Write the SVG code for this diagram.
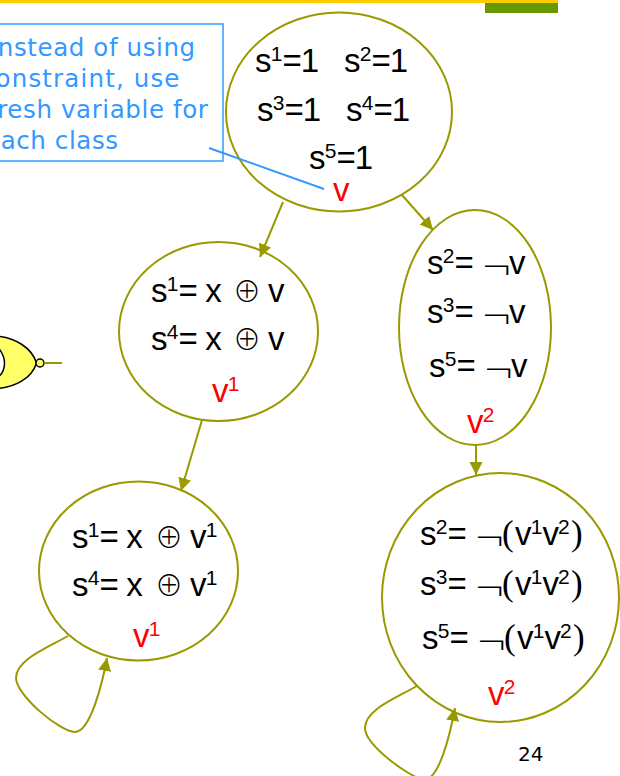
<svg xmlns="http://www.w3.org/2000/svg" width="620" height="776" viewBox="0 0 620 776">
<style>
.n{fill:#fff;stroke:#999900;stroke-width:2}
.c{fill:none;stroke:#999900;stroke-width:2}
.t{font-family:"Liberation Sans",Arial,sans-serif;font-size:33px;letter-spacing:-.8px;fill:#000}
.r{font-family:"Liberation Sans",Arial,sans-serif;font-size:33px;letter-spacing:-.8px;fill:#ff0000}
.s{font-size:21px;letter-spacing:0}
.y{font-family:"Noto Sans CJK SC",sans-serif;font-size:28px;font-weight:300;letter-spacing:0}
.g{font-family:"DejaVu Sans",sans-serif;font-size:38px;font-weight:200;letter-spacing:-4px}
.b{font-family:"DejaVu Sans",Verdana,sans-serif;font-size:24.500px;letter-spacing:.6px;fill:#3399ff}
.p{font-family:"Liberation Serif",serif;font-size:35px;letter-spacing:0}
</style>
<defs>
<marker id="a" markerUnits="userSpaceOnUse" markerWidth="14" markerHeight="14" refX="13" refY="6.500" orient="auto"><path d="M0 0L13 6.500L0 13Z" fill="#999900"/></marker>
</defs>
<g id="header">
<rect x="0" y="0" width="558" height="3" fill="#ffcc00"/>
<rect x="485" y="3" width="73" height="10" fill="#669900"/>
</g>
<g id="gate">
<path d="M-5 336C15 337 32 348 36.500 363C32 378 15 388 -5 388.500Z" fill="#ffff66" stroke="#000" stroke-width="1.500"/>
<path d="M-5 344C1 350 4.500 356 4.500 363C4.500 370 1 376 -5 379Z" fill="#fff" stroke="#000" stroke-width="1.500"/>
<circle cx="40" cy="363" r="4" fill="#ffff66" stroke="#000" stroke-width="1.500"/>
<path d="M44 363H62" class="c"/>
</g>
<g id="node-root">
<ellipse class="n" cx="339" cy="112" rx="113" ry="99.500"/>
<text class="t" x="255" y="72">s<tspan class="s" dy="-11">1</tspan><tspan dy="11">=1</tspan></text>
<text class="t" x="344" y="72">s<tspan class="s" dy="-11">2</tspan><tspan dy="11">=1</tspan></text>
<text class="t" x="257" y="121">s<tspan class="s" dy="-11">3</tspan><tspan dy="11">=1</tspan></text>
<text class="t" x="346" y="121">s<tspan class="s" dy="-11">4</tspan><tspan dy="11">=1</tspan></text>
<text class="t" x="309" y="169">s<tspan class="s" dy="-11">5</tspan><tspan dy="11">=1</tspan></text>
<text class="r" x="333" y="201">v</text>
</g>
<g id="node-left">
<ellipse class="n" cx="218.500" cy="331.500" rx="99.500" ry="89.500"/>
<text class="t" x="151" y="302">s<tspan class="s" dy="-11">1</tspan><tspan dy="11">= x</tspan><tspan class="y" x="233">⊕</tspan><tspan x="268">v</tspan></text>
<text class="t" x="151" y="350">s<tspan class="s" dy="-11">4</tspan><tspan dy="11">= x</tspan><tspan class="y" x="233">⊕</tspan><tspan x="268">v</tspan></text>
<text class="r" x="212" y="402">v<tspan class="s" dy="-11">1</tspan></text>
</g>
<g id="node-right">
<ellipse class="n" cx="475" cy="327.500" rx="76" ry="117.500"/>
<text class="t" x="427" y="274">s<tspan class="s" dy="-11">2</tspan><tspan dy="11">=</tspan><tspan class="g" x="481" y="280">¬</tspan><tspan x="509" y="274">v</tspan></text>
<text class="t" x="427" y="323">s<tspan class="s" dy="-11">3</tspan><tspan dy="11">=</tspan><tspan class="g" x="481" y="329">¬</tspan><tspan x="509" y="323">v</tspan></text>
<text class="t" x="429" y="377">s<tspan class="s" dy="-11">5</tspan><tspan dy="11">=</tspan><tspan class="g" x="483" y="383">¬</tspan><tspan x="511" y="377">v</tspan></text>
<text class="r" x="467" y="433">v<tspan class="s" dy="-11">2</tspan></text>
</g>
<g id="node-bottom-left">
<ellipse class="n" cx="138.500" cy="571" rx="99.500" ry="89.500"/>
<text class="t" x="72" y="548">s<tspan class="s" dy="-11">1</tspan><tspan dy="11">= x</tspan><tspan class="y" x="155">⊕</tspan><tspan x="190">v</tspan><tspan class="s" dy="-11">1</tspan></text>
<text class="t" x="72" y="596">s<tspan class="s" dy="-11">4</tspan><tspan dy="11">= x</tspan><tspan class="y" x="155">⊕</tspan><tspan x="190">v</tspan><tspan class="s" dy="-11">1</tspan></text>
<text class="r" x="133" y="647">v<tspan class="s" dy="-11">1</tspan></text>
</g>
<g id="node-bottom-right">
<ellipse class="n" cx="500.500" cy="597.500" rx="118.500" ry="124.500"/>
<text class="t" x="420" y="545">s<tspan class="s" dy="-11">2</tspan><tspan dy="11">=</tspan><tspan class="g" x="474" y="551">¬</tspan><tspan class="p" x="502" y="545">(</tspan><tspan x="515">v</tspan><tspan class="s" dy="-11">1</tspan><tspan dy="11">v</tspan><tspan class="s" dy="-11">2</tspan><tspan class="p" x="571" y="545">)</tspan></text>
<text class="t" x="420" y="595">s<tspan class="s" dy="-11">3</tspan><tspan dy="11">=</tspan><tspan class="g" x="474" y="601">¬</tspan><tspan class="p" x="502" y="595">(</tspan><tspan x="515">v</tspan><tspan class="s" dy="-11">1</tspan><tspan dy="11">v</tspan><tspan class="s" dy="-11">2</tspan><tspan class="p" x="571" y="595">)</tspan></text>
<text class="t" x="422" y="649">s<tspan class="s" dy="-11">5</tspan><tspan dy="11">=</tspan><tspan class="g" x="476" y="655">¬</tspan><tspan class="p" x="504" y="649">(</tspan><tspan x="517">v</tspan><tspan class="s" dy="-11">1</tspan><tspan dy="11">v</tspan><tspan class="s" dy="-11">2</tspan><tspan class="p" x="573" y="649">)</tspan></text>
<text class="r" x="488" y="705">v<tspan class="s" dy="-11">2</tspan></text>
</g>
<g id="note">
<rect x="-10" y="24" width="233" height="137" fill="#fff" stroke="#3399ff" stroke-width="1.500"/>
<text class="b" x="-10" y="56">Instead of using</text>
<text class="b" x="-19" y="87" style="letter-spacing:1.150px">constraint, use</text>
<text class="b" x="-12" y="118">fresh variable for</text>
<text class="b" x="-15" y="149">each class</text>
</g>
<g id="connectors">
<path class="c" style="stroke:#3399ff" d="M209 148L324 189"/>
<path class="c" marker-end="url(#a)" d="M402 195L433 230"/>
<path class="c" marker-end="url(#a)" d="M283 202L260 257"/>
<path class="c" marker-end="url(#a)" d="M202 420L181 491"/>
<path class="c" marker-end="url(#a)" d="M476 445V475"/>
<path class="c" marker-end="url(#a)" d="M68 636C45 649 16 660 16 678C16 695 60 732 75 732C90 732 102 685 107 658"/>
<path class="c" marker-end="url(#a)" d="M417 686C394 699 365 710 365 728C365 745 409 777 424 780C439 780 450 735 455 708"/>
</g>
<text id="page" x="518" y="761" font-family="DejaVu Sans,sans-serif" font-size="20" fill="#000">24</text>
</svg>
